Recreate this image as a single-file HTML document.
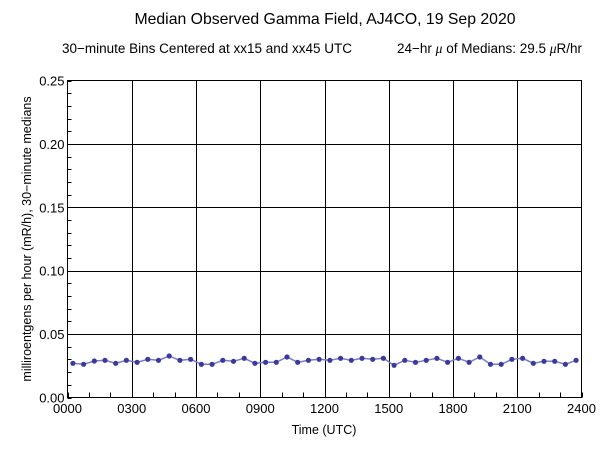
<!DOCTYPE html>
<html><head><style>body{margin:0;background:#fff}svg{display:block}text{font-family:"Liberation Sans",sans-serif;fill:#000}</style></head><body>
<svg id="s" width="600" height="457" viewBox="0 0 600 457" xmlns="http://www.w3.org/2000/svg">
<text x="325" y="24" font-size="15.8" text-anchor="middle">Median Observed Gamma Field, AJ4CO, 19 Sep 2020</text>
<text x="62" y="53" font-size="13.5">30−minute Bins Centered at xx15 and xx45 UTC</text>
<text x="397" y="53" font-size="13.5">24−hr <tspan font-style="italic" font-family="Liberation Serif">μ</tspan> of Medians: 29.5 <tspan font-style="italic" font-family="Liberation Serif">μ</tspan>R/hr</text>
<g id="grid" stroke="#000" stroke-width="1" fill="none"></g>
<text x="324" y="434" font-size="12.5" text-anchor="middle">Time (UTC)</text>
<text transform="translate(31,239) rotate(-90)" font-size="12.5" text-anchor="middle">milliroentgens per hour (mR/h), 30−minute medians</text>
<g id="lab" font-size="13"></g>
<g id="dat"></g>
</svg>
<script>
var L=67.5,R=581.5,T=80.5,B=397.5,ns="http://www.w3.org/2000/svg";
function el(p,n,a,t){var e=document.createElementNS(ns,n);for(var k in a)e.setAttribute(k,a[k]);if(t)e.textContent=t;document.getElementById(p).appendChild(e);}
var W=R-L,H=B-T;
el("grid","rect",{x:L,y:T,width:W,height:H});
for(var i=1;i<8;i++){var x=Math.round(L+W*i/8)+.5;el("grid","line",{x1:x,y1:T,x2:x,y2:B});}
for(var i=1;i<5;i++){var y=Math.round(B-H*i/5)+.5;el("grid","line",{x1:L,y1:y,x2:R,y2:y});}
for(var i=0;i<=24;i++){var x=Math.round(L+W*i/24)+.5;el("grid","line",{x1:x,y1:B,x2:x,y2:B-5});}
for(var i=0;i<=25;i++){var y=Math.round(B-H*i/25)+.5;el("grid","line",{x1:L,y1:y,x2:L+4,y2:y});}
var xl=["0000","0300","0600","0900","1200","1500","1800","2100","2400"];
for(var i=0;i<9;i++)el("lab","text",{x:L+W*i/8,y:413,"text-anchor":"middle"},xl[i]);
for(var i=0;i<6;i++)el("lab","text",{x:L-3,y:B-H*i/5+5,"text-anchor":"end"},(i*0.05).toFixed(2));
var z=[100,103,93,91,100,91,97,88,91,78,91,88,103,103,91,94,85,100,97,97,81,97,91,88,91,85,91,85,88,85,106,91,97,91,85,97,85,97,81,103,103,88,85,100,94,94,103,91];
var pts=[];for(var i=0;i<48;i++){pts.push((L+W*(i+0.5)/48).toFixed(1)+","+(330+z[i]/3).toFixed(1));}
el("dat","polyline",{points:pts.join(" "),fill:"none",stroke:"#7b7bc8","stroke-width":1.5});
pts.forEach(function(p){var a=p.split(",");el("dat","circle",{cx:a[0],cy:a[1],r:2.6,fill:"#3a3a9e"});});
</script>
</body></html>
